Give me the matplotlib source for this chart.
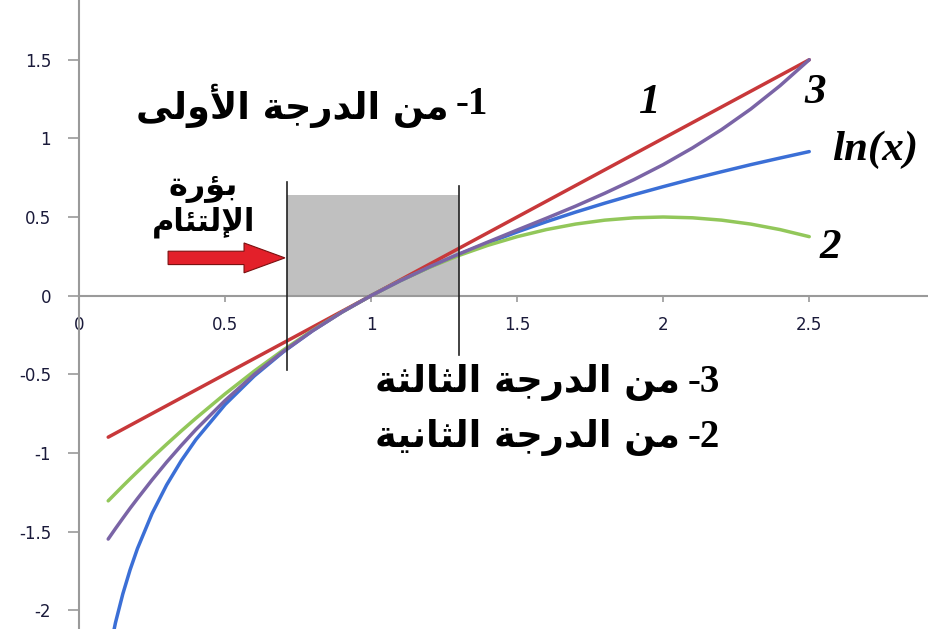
import matplotlib
matplotlib.use("Agg")
import matplotlib.pyplot as plt
from matplotlib.patches import Rectangle, FancyArrow

# values
x = [0.1, 0.125, 0.15, 0.175, 0.2, 0.25, 0.3, 0.35, 0.4, 0.5, 0.6, 0.7, 0.8, 0.9, 1.0,
     1.1, 1.2, 1.3, 1.4, 1.5, 1.6, 1.7, 1.8, 1.9, 2.0, 2.1, 2.2, 2.3, 2.4, 2.5]
ln_x = [-2.303, -2.079, -1.897, -1.743, -1.609, -1.386, -1.204, -1.050, -0.916, -0.693,
        -0.511, -0.357, -0.223, -0.105, 0.0, 0.095, 0.182, 0.262, 0.336, 0.405,
        0.470, 0.531, 0.588, 0.642, 0.693, 0.742, 0.788, 0.833, 0.875, 0.916]
order2 = [-1.305, -1.258, -1.211, -1.165, -1.12, -1.031, -0.945, -0.861, -0.78, -0.625,
          -0.48, -0.345, -0.22, -0.105, 0.0, 0.095, 0.18, 0.255, 0.32, 0.375,
          0.42, 0.455, 0.48, 0.495, 0.5, 0.495, 0.48, 0.455, 0.42, 0.375]
order3 = [-1.548, -1.481, -1.416, -1.352, -1.291, -1.172, -1.059, -0.953, -0.852, -0.667,
          -0.501, -0.354, -0.223, -0.105, 0.0, 0.095, 0.183, 0.264, 0.341, 0.417,
          0.492, 0.569, 0.651, 0.738, 0.833, 0.939, 1.056, 1.187, 1.335, 1.5]
x1 = [0.1, 2.5]
order1 = [-0.9, 1.5]

xticks = [0, 0.5, 1, 1.5, 2, 2.5]
yticks = [-2, -1.5, -1, -0.5, 0, 0.5, 1, 1.5]

# arabic letters -> (isolated, final, initial, medial); matplotlib does no shaping
FORMS = {
    "ا": ("\uFE8D", "\uFE8E", None, None),
    "أ": ("\uFE83", "\uFE84", None, None),
    "إ": ("\uFE87", "\uFE88", None, None),
    "ؤ": ("\uFE85", "\uFE86", None, None),
    "ئ": ("\uFE89", "\uFE8A", "\uFE8B", "\uFE8C"),
    "ب": ("\uFE8F", "\uFE90", "\uFE91", "\uFE92"),
    "ة": ("\uFE93", "\uFE94", None, None),
    "ت": ("\uFE95", "\uFE96", "\uFE97", "\uFE98"),
    "ث": ("\uFE99", "\uFE9A", "\uFE9B", "\uFE9C"),
    "ج": ("\uFE9D", "\uFE9E", "\uFE9F", "\uFEA0"),
    "د": ("\uFEA9", "\uFEAA", None, None),
    "ر": ("\uFEAD", "\uFEAE", None, None),
    "ل": ("\uFEDD", "\uFEDE", "\uFEDF", "\uFEE0"),
    "م": ("\uFEE1", "\uFEE2", "\uFEE3", "\uFEE4"),
    "ن": ("\uFEE5", "\uFEE6", "\uFEE7", "\uFEE8"),
    "و": ("\uFEED", "\uFEEE", None, None),
    "ى": ("\uFEEF", "\uFEF0", None, None),
    "ي": ("\uFEF1", "\uFEF2", "\uFEF3", "\uFEF4"),
    "لا": ("\uFEFB", "\uFEFC", None, None),
    "لأ": ("\uFEF7", "\uFEF8", None, None),
    "لإ": ("\uFEF9", "\uFEFA", None, None),
}


def shape(text):
    units = []
    i = 0
    while i < len(text):
        if text[i] == "ل" and i + 1 < len(text) and text[i + 1] in "اأإ":
            units.append(text[i:i + 2])
            i += 2
        else:
            units.append(text[i])
            i += 1
    out = []
    for k, u in enumerate(units):
        if u not in FORMS:
            out.append(u)
            continue
        f = FORMS[u]
        prev = units[k - 1] if k > 0 else None
        nxt = units[k + 1] if k + 1 < len(units) else None
        pj = prev in FORMS and FORMS[prev][2] is not None
        nj = nxt in FORMS and f[2] is not None
        if pj and nj:
            out.append(f[3])
        elif pj:
            out.append(f[1])
        elif nj:
            out.append(f[2])
        else:
            out.append(f[0])
    return "".join(out[::-1])


fig = plt.figure(figsize=(9.29, 6.29), dpi=100)
ax = fig.add_axes([79 / 929, 0, 1 - 79 / 929, 1])
ax.set_xlim(0, 2.91)
ax.set_ylim(-2.12, 1.88)

ax.add_patch(Rectangle((0.712, 0), 1.301 - 0.712, 0.64, facecolor="#c0c0c0",
                       edgecolor="none", zorder=1))

ax.plot(x, ln_x, color="#3b6fd6", lw=2.5, zorder=3, solid_capstyle="round")
ax.plot(x1, order1, color="#c8383a", lw=2.5, zorder=3, solid_capstyle="round")
ax.plot(x, order2, color="#92c75a", lw=2.5, zorder=3, solid_capstyle="round")
ax.plot(x, order3, color="#7a64a6", lw=2.5, zorder=3, solid_capstyle="round")

ax.plot([0.712, 0.712], [0.72, -0.47], color="#222222", lw=1.2, zorder=4)
ax.plot([1.301, 1.301], [0.70, -0.38], color="#222222", lw=1.2, zorder=4)

ax.add_patch(FancyArrow(0.305, 0.24, 0.40, 0, width=0.085, head_width=0.19,
                        head_length=0.14, length_includes_head=True,
                        facecolor="#e3202a", edgecolor="#7a1010", lw=0.8, zorder=4))

for s in ["top", "right"]:
    ax.spines[s].set_visible(False)
ax.spines["bottom"].set_position(("data", 0))
for s in ["left", "bottom"]:
    ax.spines[s].set_color("#9a9a9a")
    ax.spines[s].set_linewidth(1.5)

ax.set_xticks(xticks)
ax.set_xticklabels([f"{v:g}" for v in xticks])
ax.set_yticks(yticks)
ax.set_yticklabels([f"{v:g}" for v in yticks])
ax.tick_params(axis="x", direction="out", length=4.5, width=1.2, color="#9a9a9a",
               pad=10, labelsize=12, labelcolor="#1a1a3a")
ax.tick_params(axis="y", direction="out", length=8, width=1.2, color="#9a9a9a",
               pad=12, labelsize=12, labelcolor="#1a1a3a")

arab = dict(fontweight="bold", color="black", va="center", family=["DejaVu Sans"])
num = dict(fontweight="bold", color="black", va="center", ha="left",
           family=["Liberation Serif"], fontsize=28)

ax.text(1.264, 1.21, shape("من الدرجة الأولى"), fontsize=26.5, ha="right", **arab)
ax.text(1.29, 1.215, "-1", **num)
ax.text(2.058, -0.555, shape("من الدرجة الثالثة"), fontsize=26.5, ha="right", **arab)
ax.text(2.085, -0.55, "-3", **num)
ax.text(2.058, -0.905, shape("من الدرجة الثانية"), fontsize=26.5, ha="right", **arab)
ax.text(2.085, -0.90, "-2", **num)

ax.text(0.425, 0.69, shape("بؤرة"), fontsize=23, ha="center", **arab)
ax.text(0.425, 0.468, shape("الإلتئام"), fontsize=22, ha="center", **arab)

lab = dict(fontweight="bold", style="italic", color="black", ha="center",
           va="center", family=["Liberation Serif"], fontsize=31)
ax.text(1.955, 1.225, "1", **lab)
ax.text(2.52, 1.29, "3", **lab)
ax.text(2.726, 0.926, "ln(x)", **lab)
ax.text(2.572, 0.30, "2", **lab)

fig.savefig("out.png", dpi=100)
